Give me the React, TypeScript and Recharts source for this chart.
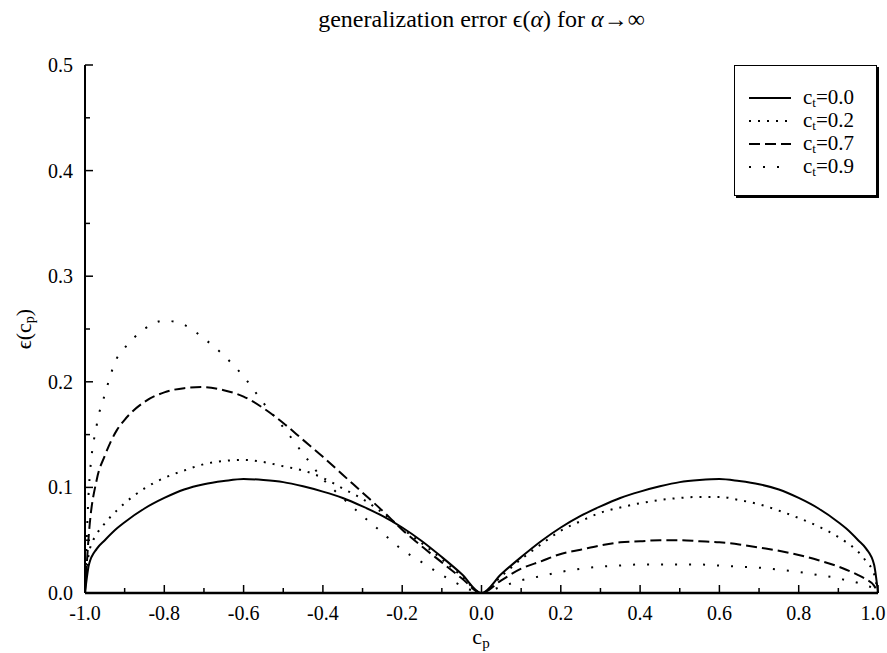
import { Line, LineChart, XAxis, YAxis } from "recharts";

const cp = [
  -1, -0.99, -0.97, -0.95, -0.92, -0.9, -0.85, -0.8, -0.75, -0.7, -0.65, -0.6, -0.55, -0.5, -0.45, -0.4,
  -0.35, -0.3, -0.25, -0.2, -0.15, -0.1, -0.05, 0, 0.05, 0.1, 0.15, 0.2, 0.25, 0.3, 0.35, 0.4, 0.45, 0.5,
  0.55, 0.6, 0.65, 0.7, 0.75, 0.8, 0.85, 0.9, 0.92, 0.95, 0.97, 0.99, 1,
];

const ct00 = [
  0, 0.027, 0.042, 0.05, 0.061, 0.067, 0.08, 0.09, 0.098, 0.103, 0.106, 0.108, 0.107, 0.105, 0.101, 0.096,
  0.09, 0.082, 0.073, 0.062, 0.049, 0.034, 0.018, 0, 0.018, 0.034, 0.049, 0.062, 0.073, 0.082, 0.09, 0.096,
  0.101, 0.105, 0.107, 0.108, 0.106, 0.103, 0.098, 0.09, 0.08, 0.067, 0.061, 0.05, 0.042, 0.027, 0,
];

const ct02 = [
  0, 0.038, 0.056, 0.066, 0.078, 0.085, 0.099, 0.109, 0.116, 0.122, 0.125, 0.126, 0.124, 0.12, 0.116, 0.109,
  0.099, 0.089, 0.076, 0.061, 0.047, 0.032, 0.016, 0, 0.016, 0.032, 0.046, 0.059, 0.068, 0.076, 0.081, 0.085,
  0.088, 0.09, 0.091, 0.091, 0.088, 0.084, 0.078, 0.071, 0.063, 0.053, 0.048, 0.039, 0.03, 0.018, 0,
];

const ct07 = [
  0, 0.057, 0.108, 0.13, 0.154, 0.164, 0.181, 0.19, 0.194, 0.195, 0.192, 0.186, 0.175, 0.161, 0.145, 0.129,
  0.112, 0.095, 0.078, 0.06, 0.044, 0.029, 0.014, 0, 0.012, 0.023, 0.03, 0.037, 0.041, 0.045, 0.048, 0.049,
  0.05, 0.05, 0.049, 0.048, 0.046, 0.043, 0.04, 0.036, 0.031, 0.025, 0.022, 0.017, 0.013, 0.007, 0,
];

const ct09 = [
  0, 0.1, 0.16, 0.188, 0.222, 0.232, 0.25, 0.258, 0.254, 0.241, 0.225, 0.205, 0.18, 0.157, 0.132, 0.108,
  0.09, 0.073, 0.057, 0.041, 0.029, 0.017, 0.007, 0, 0.006, 0.012, 0.016, 0.02, 0.023, 0.025, 0.026, 0.027,
  0.027, 0.027, 0.027, 0.026, 0.025, 0.024, 0.022, 0.02, 0.017, 0.014, 0.012, 0.0095, 0.007, 0.004, 0,
];

const xTicks = [-1, -0.9, -0.8, -0.7, -0.6, -0.5, -0.4, -0.3, -0.2, -0.1, 0, 0.1, 0.2, 0.3, 0.4, 0.5, 0.6, 0.7, 0.8, 0.9, 1];
const yTicks = [0, 0.05, 0.1, 0.15, 0.2, 0.25, 0.3, 0.35, 0.4, 0.45, 0.5];

const series = [
  { key: "ct00", label: "0.0", dash: undefined as string | undefined },
  { key: "ct02", label: "0.2", dash: "2 7" },
  { key: "ct07", label: "0.7", dash: "11 5" },
  { key: "ct09", label: "0.9", dash: "2 12" },
];

const data = cp.map((x, i) => ({ x, ct00: ct00[i], ct02: ct02[i], ct07: ct07[i], ct09: ct09[i] }));

const FONT = '"Liberation Serif", "Times New Roman", serif';

const isMajor = (v: number, step: number) => Math.abs(Math.round(v / step) * step - v) < 1e-6;

const BottomTick = (props: any) => {
  const { x, y, payload } = props;
  const v = payload.value as number;
  const major = isMajor(v, 0.2);
  // keep the last label inside the page, as in the reference
  const lx = v === 1 ? x - 5 : x;
  return (
    <g>
      <line x1={x} x2={x} y1={y} y2={y - (major ? 8 : 5)} stroke="#000" strokeWidth={1.5} />
      {major && (
        <text x={lx} y={y + 27} textAnchor="middle" style={{ fontFamily: FONT, fontSize: 20 }} fill="#000">
          {v.toFixed(1)}
        </text>
      )}
    </g>
  );
};

const TopTick = (props: any) => {
  const { x, y, payload } = props;
  const major = isMajor(payload.value, 0.2);
  return <line x1={x} x2={x} y1={y} y2={y + (major ? 8 : 5)} stroke="#000" strokeWidth={1.5} />;
};

const LeftTick = (props: any) => {
  const { x, y, payload } = props;
  const v = payload.value as number;
  const major = isMajor(v, 0.1);
  return (
    <g>
      <line x1={x} x2={x + (major ? 8 : 5)} y1={y} y2={y} stroke="#000" strokeWidth={1.5} />
      {major && (
        <text x={x - 12} y={y + 7} textAnchor="end" style={{ fontFamily: FONT, fontSize: 20 }} fill="#000">
          {v.toFixed(1)}
        </text>
      )}
    </g>
  );
};

const RightTick = (props: any) => {
  const { x, y, payload } = props;
  const major = isMajor(payload.value, 0.1);
  return <line x1={x} x2={x - (major ? 8 : 5)} y1={y} y2={y} stroke="#000" strokeWidth={1.5} />;
};

function LegendBox() {
  return (
    <div
      style={{
        position: "absolute",
        left: 734,
        top: 65,
        width: 143,
        height: 131,
        boxSizing: "border-box",
        border: "1.5px solid #000",
        boxShadow: "2px 2px 0 #000",
        background: "#fff",
        paddingTop: 20,
        fontFamily: FONT,
      }}
    >
      {series.map((s) => (
        <div key={s.key} style={{ display: "flex", alignItems: "center", height: 23 }}>
          <svg width={56} height={10} style={{ marginLeft: 12 }}>
            <line x1={2} x2={44} y1={5} y2={5} stroke="#000" strokeWidth={2} strokeDasharray={s.dash} />
          </svg>
          <span style={{ fontSize: 21, color: "#000" }}>
            c<sub style={{ fontSize: 13, verticalAlign: "-3px" }}>t</sub>={s.label}
          </span>
        </div>
      ))}
    </div>
  );
}

export default function App() {
  return (
    <div style={{ position: "absolute", left: 0, top: 0, width: 887, height: 653, background: "#fff" }}>
      <div
        style={{
          position: "absolute",
          left: 85,
          width: 793,
          top: 6,
          textAlign: "center",
          fontFamily: FONT,
          fontSize: 24,
          color: "#000",
        }}
      >
        generalization error ϵ(<i>α</i>) for <i>α</i>→∞
      </div>
      <div
        style={{
          position: "absolute",
          left: 24,
          top: 329,
          transform: "translate(-50%, -50%) rotate(-90deg)",
          fontFamily: FONT,
          fontSize: 22,
          color: "#000",
          whiteSpace: "nowrap",
        }}
      >
        ϵ(c<sub style={{ fontSize: 14, verticalAlign: "-3px" }}>p</sub>)
      </div>
      <div
        style={{
          position: "absolute",
          left: 481,
          top: 638,
          transform: "translate(-50%, -50%)",
          fontFamily: FONT,
          fontSize: 22,
          lineHeight: "22px",
          color: "#000",
        }}
      >
        c<sub style={{ fontSize: 15, verticalAlign: "-4px", lineHeight: "15px" }}>p</sub>
      </div>
      <div style={{ position: "absolute", left: 0, top: 0 }}>
        <LineChart width={887} height={653} data={data} margin={{ top: 65, right: 9, bottom: 0, left: 0 }}>
          <XAxis
            dataKey="x"
            type="number"
            domain={[-1, 1]}
            ticks={xTicks}
            interval={0}
            height={60}
            tickSize={0}
            tickMargin={0}
            tickLine={false}
            axisLine={{ stroke: "#000", strokeWidth: 2.5 }}
            tick={<BottomTick />}
          />
          <XAxis
            xAxisId="top"
            orientation="top"
            dataKey="x"
            type="number"
            domain={[-1, 1]}
            ticks={xTicks}
            interval={0}
            height={0}
            tickSize={0}
            tickMargin={0}
            tickLine={false}
            axisLine={{ stroke: "#000", strokeWidth: 2 }}
            tick={<TopTick />}
          />
          <YAxis
            type="number"
            domain={[0, 0.5]}
            ticks={yTicks}
            interval={0}
            width={85}
            tickSize={0}
            tickMargin={0}
            tickLine={false}
            axisLine={{ stroke: "#000", strokeWidth: 2 }}
            tick={<LeftTick />}
          />
          <YAxis
            yAxisId="right"
            orientation="right"
            type="number"
            domain={[0, 0.5]}
            ticks={yTicks}
            interval={0}
            width={0}
            tickSize={0}
            tickMargin={0}
            tickLine={false}
            axisLine={{ stroke: "#000", strokeWidth: 2 }}
            tick={<RightTick />}
          />
          {series.map((s) => (
            <Line
              key={s.key}
              dataKey={s.key}
              type="monotone"
              stroke="#000"
              strokeWidth={2}
              strokeDasharray={s.dash}
              dot={false}
              activeDot={false}
              isAnimationActive={false}
            />
          ))}
        </LineChart>
      </div>
      <LegendBox />
    </div>
  );
}
